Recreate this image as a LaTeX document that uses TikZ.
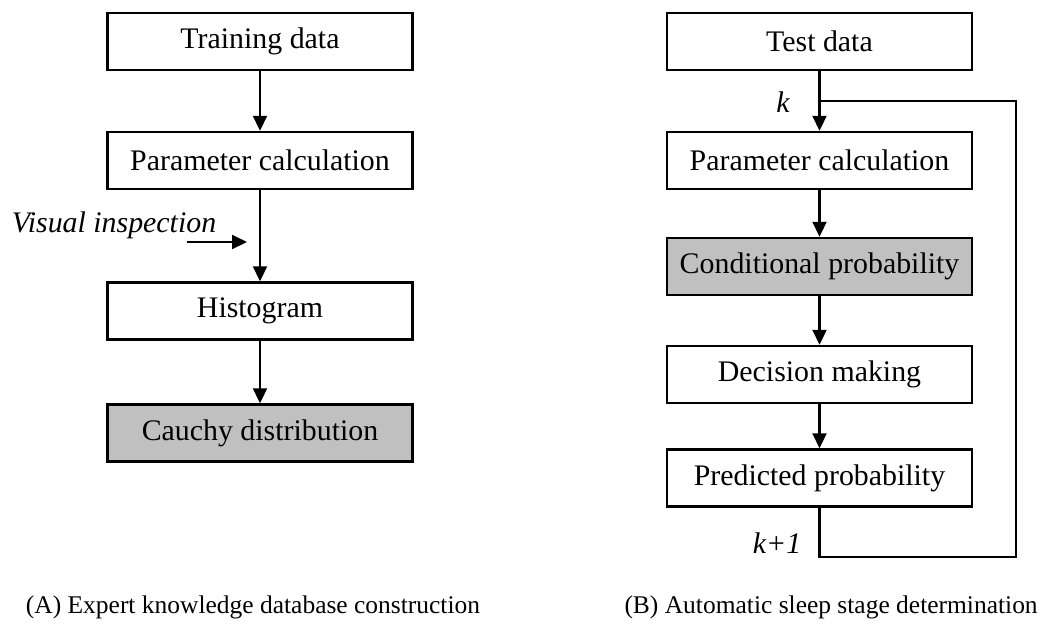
\documentclass[tikz,border=0pt]{standalone}
\usepackage{fontspec}
\setmainfont{Liberation Serif}
\usetikzlibrary{arrows.meta, positioning}
\tikzset{>={Triangle[length=0.3cm,width=0.28cm]}}
\definecolor{boxgray}{RGB}{192,192,192}

\begin{document}
\begin{tikzpicture}[x=0.02cm,y=-0.02cm,
		box/.style={draw, line width=1.4pt, minimum width=6.1cm, minimum height=1.14cm, inner sep=0pt, font=\fontsize{17}{20}\selectfont},
		shaded/.style={box, fill=boxgray},
		lbl/.style={font=\fontsize{17}{20}\selectfont\itshape, inner sep=0pt},
		captext/.style={font=\fontsize{14.5}{17}\selectfont, inner sep=0pt}]
		\useasboundingbox (0,0) rectangle (1043,625);

		\node[box] (TD) at (260,41.5) {Training data};
		\node[box] (PC) at (260,160.5) {Parameter calculation};
		\node[box] (HI) at (260,311) {Histogram};
		\node[shaded] (CD) at (260,433) {Cauchy distribution};

		\node[box] (TE) at (819.5,41.5) {Test data};
		\node[box] (PR) at (819.5,160.5) {Parameter calculation};
		\node[shaded] (CP) at (819.5,266.5) {Conditional probability};
		\node[box] (DM) at (819.5,374.5) {Decision making};
		\node[box] (PP) at (819.5,478) {Predicted probability};

		\node[lbl] (VI) at (114,225) {Visual inspection};
		\coordinate (VS) at (187,242);
		\coordinate (VE) at (247,242);

		\node[lbl] (K) at (783,102) {k};
		\node[lbl] (K1) at (777,543) {k+1};
		\coordinate (LB) at (1016,557);
		\coordinate (LJ) at (819.5,101);

		\draw[->, line width=1.2pt](TD) -- (PC);
		\draw[->, line width=1.2pt](PC) -- (HI);
		\draw[->, line width=1.2pt](HI) -- (CD);
		\draw[->, line width=1.2pt](VS) -- (VE);

		\draw[->, line width=1.2pt](TE) -- (PR);
		\draw[->, line width=1.2pt](PR) -- (CP);
		\draw[->, line width=1.2pt](CP) -- (DM);
		\draw[->, line width=1.2pt](DM) -- (PP);
		\draw[line width=1.2pt](PP.south) |- (LB) |- (LJ);

		\node[captext] (CA) at (253,607) {(A) Expert knowledge database construction};
		\node[captext, anchor=east] (CB) at (1038,607) {(B) Automatic sleep stage determination};
\end{tikzpicture}
\end{document}
